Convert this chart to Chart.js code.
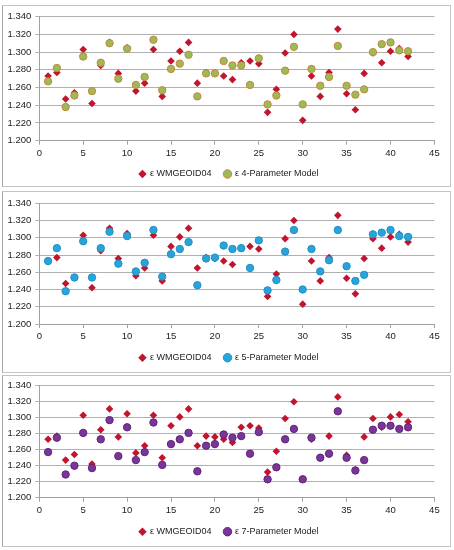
<!DOCTYPE html>
<html>
<head>
<meta charset="utf-8">
<script src="https://cdn.jsdelivr.net/npm/chart.js@4.4.1/dist/chart.umd.min.js"></script>
<style>
  html, body { margin: 0; padding: 0; background: #fff; }
  body { width: 454px; height: 550px; position: relative; overflow: hidden; }
  .panel { position: absolute; left: 2px; width: 447px; border: 1px solid #c4c4c4; border-left-color: #a8a8a8; background: #fff; overflow: hidden; }
  .panel canvas { display: block; }
</style>
</head>
<body>
<div class="panel" style="top:5px;height:180px"><canvas id="c1"></canvas></div>
<div class="panel" style="top:191px;height:180px"><canvas id="c2"></canvas></div>
<div class="panel" style="top:375px;height:170px"><canvas id="c3"></canvas></div>

<script>
// Point numbers along the x axis
const pointNo = [1, 2, 3, 4, 5, 6, 7, 8, 9, 10, 11, 12, 13, 14, 15, 16, 17, 18, 19, 20, 21,
                 22, 23, 24, 25, 26, 27, 28, 29, 30, 31, 32, 33, 34, 35, 36, 37, 38, 39, 40, 41, 42];

// ε WMGEOID04 (same in all three charts)
const wmgeoid04 = [1.273, 1.277, 1.247, 1.254, 1.303, 1.242, 1.285, 1.311, 1.276, 1.305, 1.256,
                   1.265, 1.303, 1.250, 1.290, 1.301, 1.311, 1.265, 1.277, 1.276, 1.273,
                   1.269, 1.288, 1.290, 1.287, 1.232, 1.258, 1.299, 1.320, 1.223, 1.273,
                   1.250, 1.277, 1.326, 1.253, 1.235, 1.276, 1.299, 1.288, 1.301, 1.304, 1.295];

// Model fits
const model4 = [1.267, 1.282, 1.238, 1.251, 1.295, 1.256, 1.288, 1.310, 1.270, 1.304, 1.263,
                1.272, 1.314, 1.257, 1.281, 1.287, 1.297, 1.250, 1.276, 1.276, 1.290,
                1.285, 1.285, 1.263, 1.293, 1.241, 1.251, 1.279, 1.306, 1.241, 1.281,
                1.262, 1.272, 1.307, 1.262, 1.252, 1.258, 1.300, 1.309, 1.311, 1.302, 1.301];

const model5 = [1.273, 1.288, 1.238, 1.254, 1.296, 1.254, 1.288, 1.307, 1.270, 1.302, 1.261,
                1.271, 1.309, 1.255, 1.281, 1.287, 1.295, 1.245, 1.276, 1.277, 1.291,
                1.287, 1.288, 1.265, 1.297, 1.239, 1.251, 1.284, 1.309, 1.240, 1.287,
                1.261, 1.274, 1.309, 1.267, 1.250, 1.257, 1.304, 1.306, 1.309, 1.302, 1.301];

const model7 = [1.257, 1.275, 1.229, 1.240, 1.281, 1.237, 1.273, 1.297, 1.252, 1.288, 1.247,
                1.257, 1.294, 1.241, 1.267, 1.273, 1.281, 1.233, 1.265, 1.267, 1.279,
                1.275, 1.277, 1.255, 1.282, 1.223, 1.238, 1.273, 1.286, 1.223, 1.275,
                1.250, 1.255, 1.308, 1.250, 1.234, 1.247, 1.285, 1.290, 1.290, 1.286, 1.288];

// Axis ranges / tick labels
const xTicks = [0, 5, 10, 15, 20, 25, 30, 35, 40, 45];
const yTicks = [1.200, 1.220, 1.240, 1.260, 1.280, 1.300, 1.320, 1.340];

const FONT = 'Liberation Sans, Arial, sans-serif';
const FONT_SIZE = 9.5;
const LEGEND_FONT = 9;
const LEGEND_PAD = 13;

function toPoints(values) {
    return pointNo.map((x, i) => ({ x: x, y: values[i] }));
}

// Build one chart; geometry is in canvas pixels
function makeChart(id, geo, modelLabel, modelValues, fill, border) {
    const canvas = document.getElementById(id);
    canvas.width = 447;
    canvas.height = geo.height + 10;

    const legendTop = geo.legendY - LEGEND_PAD - LEGEND_FONT / 2;
    const legendH = LEGEND_FONT + LEGEND_PAD + 10;
    // legend is centred on the full width by default, nudge it over
    const legendShift = geo.legendX - geo.plotRight / 2;

    new Chart(canvas, {
        type: 'scatter',
        data: {
            datasets: [{
                label: 'ε WMGEOID04',
                data: toPoints(wmgeoid04),
                pointStyle: 'rectRot',
                pointRadius: 3.8,
                pointBorderWidth: 0,
                backgroundColor: '#C3142E',
                borderColor: '#C3142E',
                order: 2
            }, {
                label: modelLabel,
                data: toPoints(modelValues),
                pointStyle: 'circle',
                pointRadius: 3.7,
                pointBorderWidth: 1,
                backgroundColor: fill,
                borderColor: border,
                order: 1
            }]
        },
        options: {
            responsive: false,
            animation: false,
            layout: {
                padding: {
                    left: 0,
                    right: canvas.width - geo.plotRight,
                    top: geo.plotTop,
                    bottom: canvas.height - legendTop - legendH
                }
            },
            plugins: {
                tooltip: { enabled: false },
                legend: {
                    position: 'bottom',
                    labels: {
                        usePointStyle: true,
                        boxWidth: 6,
                        boxHeight: 6,
                        padding: LEGEND_PAD,
                        color: '#222',
                        font: { family: FONT, size: LEGEND_FONT },
                        sort: (a, b) => a.datasetIndex - b.datasetIndex
                    }
                }
            },
            scales: {
                x: {
                    type: 'linear',
                    min: xTicks[0],
                    max: xTicks[xTicks.length - 1],
                    afterBuildTicks: (axis) => { axis.ticks = xTicks.map(v => ({ value: v })); },
                    afterFit: (axis) => { axis.height = legendTop - geo.plotBottom; },
                    grid: { drawOnChartArea: false, color: '#a0a0a0', tickLength: 4 },
                    border: { color: '#a0a0a0' },
                    ticks: { color: '#222', padding: 3, font: { family: FONT, size: FONT_SIZE } }
                },
                y: {
                    min: yTicks[0],
                    max: yTicks[yTicks.length - 1],
                    afterBuildTicks: (axis) => { axis.ticks = yTicks.map(v => ({ value: v })); },
                    afterFit: (axis) => { axis.width = geo.plotLeft; },
                    grid: { color: '#b0b0b0', tickLength: 4 },
                    border: { color: '#a0a0a0' },
                    ticks: {
                        color: '#222',
                        padding: 4,
                        font: { family: FONT, size: FONT_SIZE },
                        callback: (v) => v.toFixed(3)
                    }
                }
            }
        },
        plugins: [{
            id: 'legendShift',
            afterLayout(chart) {
                chart.legend.left += legendShift;
                chart.legend.right += legendShift;
            }
        }]
    });
}

makeChart('c1', { height: 180, plotLeft: 36.3, plotRight: 431.4, plotTop: 10.7, plotBottom: 134.7, legendY: 168, legendX: 226 },
    'ε 4-Parameter Model', model4, '#9BBB59', '#C8863A');
makeChart('c2', { height: 180, plotLeft: 36.3, plotRight: 431.4, plotTop: 11.3, plotBottom: 132, legendY: 165.7, legendX: 226 },
    'ε 5-Parameter Model', model5, '#28A4DA', '#2190C4');
makeChart('c3', { height: 170, plotLeft: 36.3, plotRight: 431.4, plotTop: 9.7, plotBottom: 121.7, legendY: 155.7, legendX: 226 },
    'ε 7-Parameter Model', model7, '#7A3599', '#5E2479');
</script>
</body>
</html>
